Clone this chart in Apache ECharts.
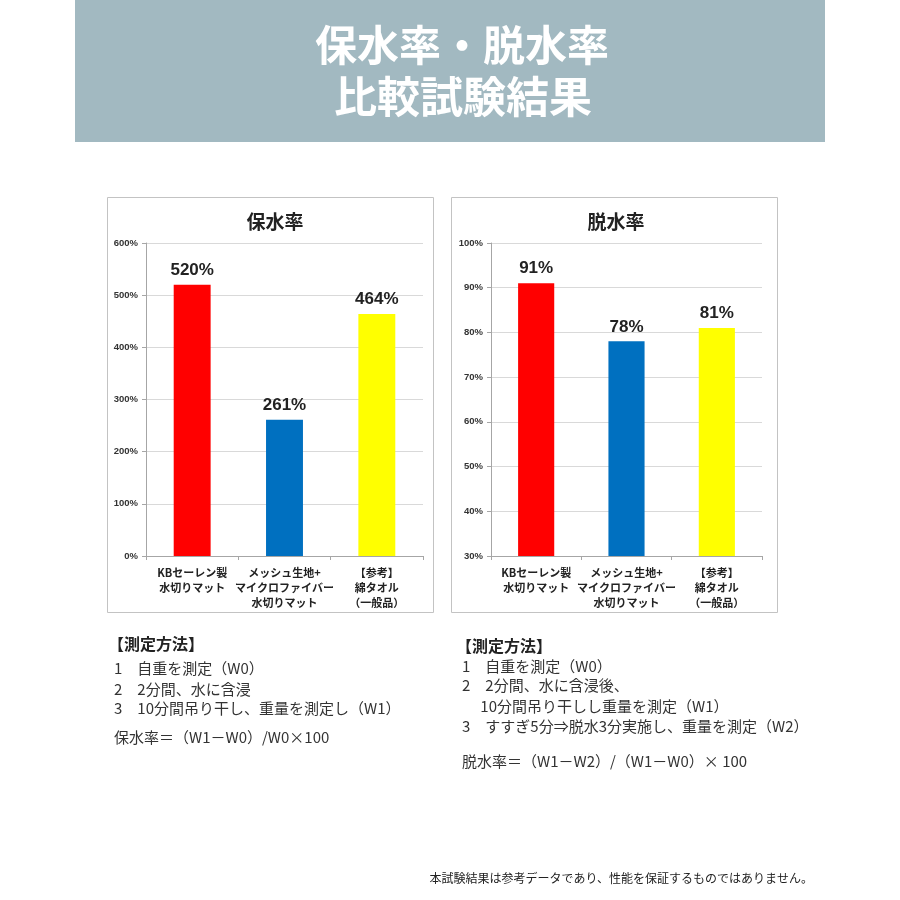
<!DOCTYPE html>
<html>
<head>
<meta charset="utf-8">
<script src="https://cdn.jsdelivr.net/npm/echarts@6/dist/echarts.min.js"></script>
<style>
  html, body { margin: 0; padding: 0; background: #fff; }
  #main { width: 900px; height: 900px; }
</style>
</head>
<body>
<div id="main"></div>
<script>
var categories = ['KBセーレン製\n水切りマット', 'メッシュ生地+\nマイクロファイバー\n水切りマット', '【参考】\n綿タオル\n（一般品）'];
var retentionValues = [520, 261, 464];
var dehydrationValues = [91, 78, 81];
var barColors = ['#ff0000', '#0070c0', '#ffff00'];

var retentionTicks = { min: 0, max: 600, interval: 100 };
var dehydrationTicks = { min: 30, max: 100, interval: 10 };

var leftNotes = ['1　自重を測定（W0）', '2　2分間、水に含浸', '3　10分間吊り干し、重量を測定し（W1）'];
var rightNotes = ['1　自重を測定（W0）', '2　2分間、水に含浸後、', '　 10分間吊り干しし重量を測定（W1）', '3　すすぎ5分⇒脱水3分実施し、重量を測定（W2）'];

var jp = '"Noto Sans CJK JP", "Noto Sans", sans-serif';

var myChart = echarts.init(document.getElementById('main'));

function txt(s, x, y, size, weight, color, align) {
    return {
        type: 'text', x: x, y: y, silent: true,
        style: {
            text: s, fontSize: size, fontWeight: weight || 'normal',
            fontFamily: jp, fill: color || '#333',
            align: align || 'left', verticalAlign: 'middle'
        }
    };
}

function yAxisOf(ticks, grid) {
    return {
        type: 'value', gridIndex: grid,
        min: ticks.min, max: ticks.max, interval: ticks.interval,
        axisLine: { show: true, lineStyle: { color: '#a6a6a6' } },
        axisTick: { show: true, length: 4, lineStyle: { color: '#a6a6a6' } },
        splitLine: { lineStyle: { color: '#d9d9d9' } },
        axisLabel: { formatter: '{value}%', fontSize: 9.5, fontWeight: 'bold', color: '#333', margin: 8, fontFamily: '"Liberation Sans", sans-serif' }
    };
}

function xAxisOf(grid) {
    return {
        type: 'category', gridIndex: grid, data: categories,
        axisLine: { lineStyle: { color: '#a6a6a6' } },
        axisTick: { show: true, length: 4, lineStyle: { color: '#a6a6a6' } },
        axisLabel: { fontSize: 11, fontWeight: 'bold', color: '#222', lineHeight: 15, margin: 9, interval: 0, fontFamily: jp }
    };
}

function barSeries(values, idx) {
    return {
        type: 'bar', xAxisIndex: idx, yAxisIndex: idx,
        data: values, barWidth: '40%',
        itemStyle: { color: function (p) { return barColors[p.dataIndex]; } },
        label: {
            show: true, position: 'top', distance: 6, formatter: '{c}%',
            fontSize: 17, fontWeight: 'bold', color: '#222',
            fontFamily: '"Liberation Sans", sans-serif'
        }
    };
}

var graphics = [
    { type: 'rect', shape: { x: 75, y: 0, width: 750, height: 142 }, style: { fill: '#a2b9c1' }, silent: true },
    { type: 'rect', shape: { x: 107.5, y: 197.5, width: 326, height: 415 }, style: { fill: 'none', stroke: '#c3c3c3', lineWidth: 1 }, silent: true },
    { type: 'rect', shape: { x: 451.5, y: 197.5, width: 326, height: 415 }, style: { fill: 'none', stroke: '#c3c3c3', lineWidth: 1 }, silent: true },
    txt('保水率・脱水率', 462, 45, 42, 'bold', '#fff', 'center'),
    txt('比較試験結果', 463, 97, 43, 'bold', '#fff', 'center'),
    txt('【測定方法】', 108, 644, 16, 'bold', '#222'),
    txt('【測定方法】', 456, 646, 16, 'bold', '#222'),
    txt('保水率＝（W1－W0）/W0×100', 114, 737, 15, 'normal', '#333'),
    txt('脱水率＝（W1－W2）/（W1－W0）× 100', 462, 761, 15, 'normal', '#333'),
    txt('本試験結果は参考データであり、性能を保証するものではありません。', 813, 878, 12, 'normal', '#222', 'right')
];
var leftY = [668, 689, 708];
leftNotes.forEach(function (s, i) { graphics.push(txt(s, 114, leftY[i], 15, 'normal', '#333')); });
var rightY = [666, 685, 706, 726];
rightNotes.forEach(function (s, i) { graphics.push(txt(s, 462, rightY[i], 15, 'normal', '#333')); });

var option = {
    backgroundColor: '#fff',
    animation: false,
    title: [{
        text: '保水率', left: 270, top: 207, textAlign: 'center',
        textStyle: { fontSize: 19, fontWeight: 'bold', color: '#222', fontFamily: jp }
    }, {
        text: '脱水率', left: 611, top: 207, textAlign: 'center',
        textStyle: { fontSize: 19, fontWeight: 'bold', color: '#222', fontFamily: jp }
    }],
    grid: [
        { left: 146, top: 243, width: 277, height: 313 },
        { left: 491, top: 243, width: 271, height: 313 }
    ],
    xAxis: [xAxisOf(0), xAxisOf(1)],
    yAxis: [yAxisOf(retentionTicks, 0), yAxisOf(dehydrationTicks, 1)],
    series: [barSeries(retentionValues, 0), barSeries(dehydrationValues, 1)],
    graphic: graphics
};
myChart.setOption(option);
</script>
</body>
</html>
